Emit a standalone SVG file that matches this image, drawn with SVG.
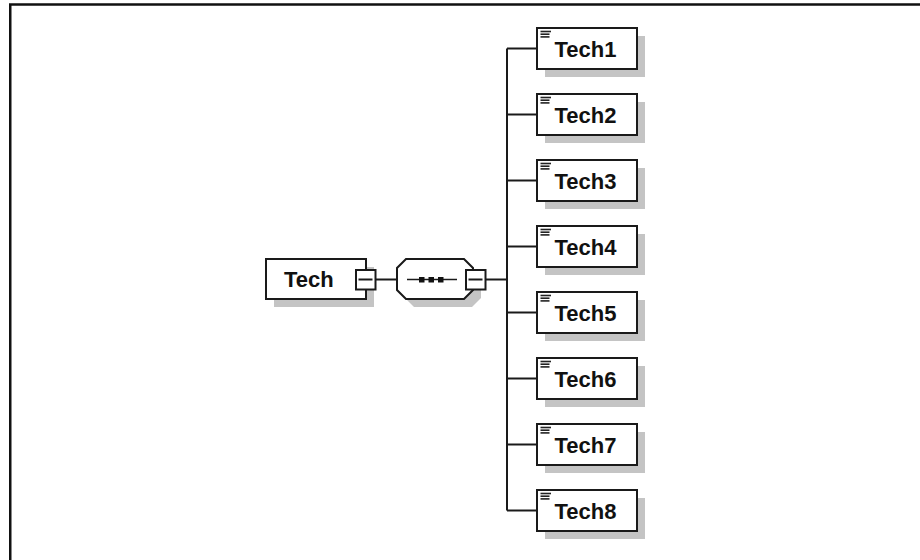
<svg xmlns="http://www.w3.org/2000/svg" width="920" height="560" viewBox="0 0 920 560">
<defs>
<style>
.frame{fill:none;stroke:#111;stroke-width:2.5}
.box{fill:#fff;stroke:#1a1a1a;stroke-width:2}
.shadow{fill:#c4c4c4;stroke:none}
.conn{fill:none;stroke:#1a1a1a;stroke-width:2}
.lbl{font-family:"Liberation Sans",Arial,sans-serif;font-weight:bold;font-size:22px;fill:#111}
.icon{stroke:#222;stroke-width:1.6}
.pm{fill:#fff;stroke:#1a1a1a;stroke-width:2}
</style>
<g id="elem">
<rect class="shadow" x="8" y="8" width="100" height="41"/>
<rect class="box" x="0" y="0" width="100" height="41"/>
<line class="icon" x1="3.5" y1="3.5" x2="14" y2="3.5"/>
<line class="icon" x1="3.5" y1="6.2" x2="12.5" y2="6.2"/>
<line class="icon" x1="3.5" y1="8.9" x2="12.5" y2="8.9"/>
</g>
</defs>
<rect class="frame" x="10.25" y="4.5" width="1000" height="1000"/>
<g id="connectors">
<line class="conn" x1="376" y1="279.5" x2="397" y2="279.5"/>
<line class="conn" x1="486" y1="279.5" x2="507" y2="279.5"/>
<line class="conn" x1="507" y1="48.5" x2="507" y2="510.5"/>
<line class="conn" x1="507" y1="48.5" x2="537" y2="48.5"/>
<line class="conn" x1="507" y1="114.5" x2="537" y2="114.5"/>
<line class="conn" x1="507" y1="180.5" x2="537" y2="180.5"/>
<line class="conn" x1="507" y1="246.5" x2="537" y2="246.5"/>
<line class="conn" x1="507" y1="312.5" x2="537" y2="312.5"/>
<line class="conn" x1="507" y1="378.5" x2="537" y2="378.5"/>
<line class="conn" x1="507" y1="444.5" x2="537" y2="444.5"/>
<line class="conn" x1="507" y1="510.5" x2="537" y2="510.5"/>
</g>
<g id="tech">
<rect class="shadow" x="274" y="267" width="100" height="40"/>
<rect class="box" x="266" y="259" width="100" height="40"/>
<text class="lbl" x="284" y="287">Tech</text>
<rect class="pm" x="356" y="270" width="19.5" height="19.5"/>
<line class="conn" x1="358.5" y1="279.5" x2="372.5" y2="279.5"/>
</g>
<g id="sequence">
<polygon class="shadow" points="414,267 472,267 481,276 481,298 472,307 414,307 405,298 405,276"/>
<polygon class="box" points="406,259 464,259 473,268 473,290 464,299 406,299 397,290 397,268"/>
<line x1="407" y1="279.5" x2="457" y2="279.5" stroke="#1a1a1a" stroke-width="1.6"/>
<rect x="419" y="277" width="5.5" height="5.5" fill="#111"/>
<rect x="428.5" y="277" width="5.5" height="5.5" fill="#111"/>
<rect x="438" y="277" width="5.5" height="5.5" fill="#111"/>
<rect class="pm" x="466" y="270" width="19.5" height="19.5"/>
<line class="conn" x1="468.5" y1="279.5" x2="482.5" y2="279.5"/>
</g>
<g id="tech1"><use href="#elem" x="537" y="28"/><text class="lbl" x="554.5" y="56.5">Tech1</text></g>
<g id="tech2"><use href="#elem" x="537" y="94"/><text class="lbl" x="554.5" y="122.5">Tech2</text></g>
<g id="tech3"><use href="#elem" x="537" y="160"/><text class="lbl" x="554.5" y="188.5">Tech3</text></g>
<g id="tech4"><use href="#elem" x="537" y="226"/><text class="lbl" x="554.5" y="254.5">Tech4</text></g>
<g id="tech5"><use href="#elem" x="537" y="292"/><text class="lbl" x="554.5" y="320.5">Tech5</text></g>
<g id="tech6"><use href="#elem" x="537" y="358"/><text class="lbl" x="554.5" y="386.5">Tech6</text></g>
<g id="tech7"><use href="#elem" x="537" y="424"/><text class="lbl" x="554.5" y="452.5">Tech7</text></g>
<g id="tech8"><use href="#elem" x="537" y="490"/><text class="lbl" x="554.5" y="518.5">Tech8</text></g>
</svg>
